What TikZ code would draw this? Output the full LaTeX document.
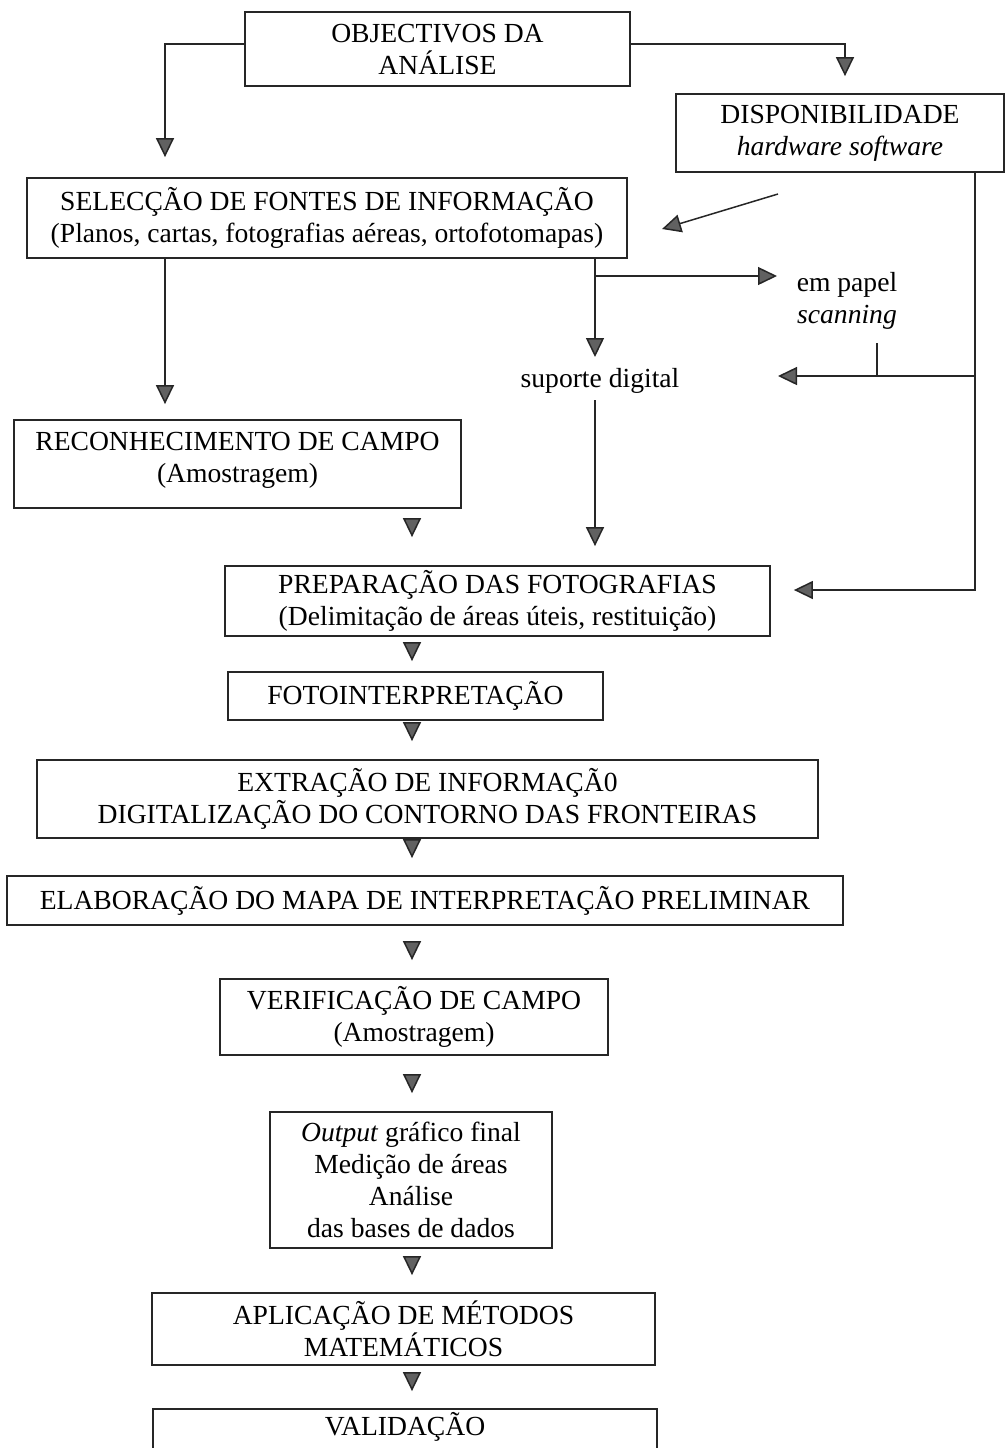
\documentclass[tikz,border=0pt]{standalone}
\usepackage{fontspec}
\setmainfont{Liberation Serif}
\usetikzlibrary{arrows.meta}
\newcommand\fs{\fontsize{13.8pt}{16pt}\selectfont}
\begin{document}
\begin{tikzpicture}[x=0.5pt,y=-0.5pt,
  box/.style={draw=black!85, line width=0.9pt, rectangle, align=center, inner sep=0pt, font=\fs},
  lbl/.style={align=center, inner sep=0pt, font=\fs},
  arr/.style={draw=black!85, line width=0.75pt, -{Triangle[length=9.5pt,width=9pt,fill=black!62]}},
  ln/.style={draw=black!85, line width=0.75pt}]
\useasboundingbox (0,0) rectangle (1006,1448);
\clip (0,0) rectangle (1006,1448);
% boxes
\node[box, minimum width=192.5pt, minimum height=37pt] (obj) at (437.5,49) {OBJECTIVOS DA\\ANÁLISE};
\node[box, minimum width=164pt, minimum height=39pt] (disp) at (840,133) {DISPONIBILIDADE\\\textit{hardware software}};
\node[box, minimum width=300pt, minimum height=40pt] (sel) at (327,218) {SELECÇÃO DE FONTES DE INFORMAÇÃO\\(Planos, cartas, fotografias aéreas, ortofotomapas)};
\node[box, minimum width=223.5pt, minimum height=44pt] (rec) at (237.5,464) {RECONHECIMENTO DE CAMPO\\(Amostragem)\\[-14pt]\strut};
\node[box, minimum width=272.5pt, minimum height=35pt] (prep) at (497.5,601) {PREPARAÇÃO DAS FOTOGRAFIAS\\(Delimitação de áreas úteis, restituição)};
\node[box, minimum width=187.5pt, minimum height=24pt] (foto) at (415.5,696) {FOTOINTERPRETAÇÃO};
\node[box, minimum width=390.5pt, minimum height=39pt] (extr) at (427.5,799) {EXTRAÇÃO DE INFORMAÇÃ0\\DIGITALIZAÇÃO DO CONTORNO DAS FRONTEIRAS};
\node[box, minimum width=418pt, minimum height=24.5pt] (elab) at (425,900.5) {ELABORAÇÃO DO MAPA DE INTERPRETAÇÃO PRELIMINAR};
\node[box, minimum width=194pt, minimum height=38pt] (verif) at (414,1017) {VERIFICAÇÃO DE CAMPO\\(Amostragem)};
\node[box, minimum width=141pt, minimum height=68pt] (out) at (411,1180) {\textit{Output} gráfico final\\Medição de áreas\\Análise\\das bases de dados};
\node[box, minimum width=251.5pt, minimum height=36pt] (apl) at (403.5,1329) {APLICAÇÃO DE MÉTODOS\\MATEMÁTICOS};
\node[box, minimum width=252pt, minimum height=36pt] (val) at (405,1445) {VALIDAÇÃO\\\strut};
% free labels
\node[lbl] (pap) at (847,301) {em papel\\\textit{scanning}};
\node[lbl] (sd) at (600,381) {suporte digital};
% helper coordinates
\coordinate (xl) at (165,0);
\coordinate (xm) at (595,0);
\coordinate (xr) at (975,0);
\coordinate (xo) at (845,0);
\coordinate (xs) at (877,0);
\coordinate (xt) at (412,0);
\coordinate (d1) at (778,194);
\coordinate (d2) at (662,229);
\coordinate (b1) at (595,276);
\coordinate (b1e) at (777,276);
\coordinate (b2) at (975,376);
\coordinate (b2e) at (778,376);
\coordinate (s1) at (877,343);
\coordinate (sdt) at (595,357);
\coordinate (sdb) at (595,400);
% connectors
\draw[arr, shorten >=10pt] ([yshift=2.5pt]obj.west) -| (sel.north -| xl);
\draw[arr, shorten >=8.5pt] ([yshift=2.5pt]obj.east) -| (disp.north -| xo);
\draw[arr] (d1) -- (d2);
\draw[arr, shorten >=7.5pt] (sel.south -| xl) -- (rec.north -| xl);
\draw[arr] (sel.south -| xm) -- (sdt);
\draw[arr] (b1) -- (b1e);
\draw[arr, shorten >=9.5pt] (sdb) -- (prep.north -| xm);
\draw[arr, shorten >=11.5pt] (disp.south -| xr) |- ([yshift=5.5pt]prep.east);
\draw[arr] (b2) -- (b2e);
\draw[ln] (s1) -- (b2 -| xs);
% short flow arrows
\draw[arr, shorten <=5.5pt, shorten >=14pt] (rec.south -| xt) -- (prep.north -| xt);
\draw[arr, shorten <=3.5pt, shorten >=5pt] (prep.south -| xt) -- (foto.north -| xt);
\draw[arr, shorten <=1.5pt, shorten >=9pt] (foto.south -| xt) -- (extr.north -| xt);
\draw[arr, shorten <=1pt, shorten >=8.5pt] (extr.south -| xt) -- (elab.north -| xt);
\draw[arr, shorten <=8.5pt, shorten >=9pt] (elab.south -| xt) -- (verif.north -| xt);
\draw[arr, shorten <=10pt, shorten >=9pt] (verif.south -| xt) -- (out.north -| xt);
\draw[arr, shorten <=4.5pt, shorten >=8.5pt] (out.south -| xt) -- (apl.north -| xt);
\draw[arr, shorten <=4pt, shorten >=8.5pt] (apl.south -| xt) -- (val.north -| xt);
\end{tikzpicture}
\end{document}
